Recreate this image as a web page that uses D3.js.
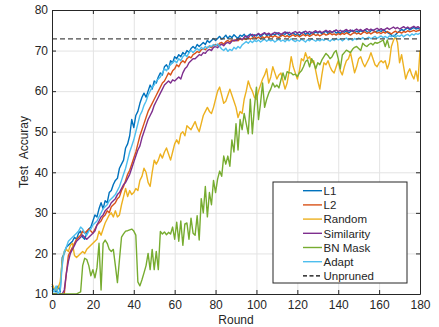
<!DOCTYPE html>
<html>
<head>
<meta charset="utf-8">
<script src="https://cdn.jsdelivr.net/npm/d3@7"></script>
<style>
body { margin: 0; background: #fff; }
text { font-family: "Liberation Sans", Arial, sans-serif; fill: #262626; }
</style>
</head>
<body>
<svg width="439" height="327"></svg>
<script>
// series names + colours (matlab default order)
var names = ["L1", "L2", "Random", "Similarity", "BN Mask", "Adapt"];
var colors = ["#0072BD", "#D95319", "#EDB120", "#7E2F8E", "#77AC30", "#4DBEEE"];

var xTicks = [0, 20, 40, 60, 80, 100, 120, 140, 160, 180];
var yTicks = [10, 20, 30, 40, 50, 60, 70, 80];
var unpruned = 72.9;

// test accuracy per round
var l1 = [
  12, 11, 10.5, 12, 10.5, 19, 20, 21.5, 22, 22.5,
  23, 24, 23.5, 25, 25.5, 24, 23.5, 25, 26, 26.5,
  28, 29.5, 29, 31, 32.5, 31, 33, 32.5, 35, 35.5,
  37, 38, 38.5, 41, 42, 43, 46, 47, 49, 53,
  51, 54, 55, 57, 58.5, 59.5, 58.5, 60, 61.5, 60.5,
  62.5, 62, 63.5, 64.5, 64, 66, 66.5, 65.5, 67.5, 67,
  68.5, 68, 69, 68.5, 69.5, 69, 70, 69.5, 70.5, 71,
  70.5, 71.5, 71, 71.5, 72, 71.5, 72.5, 72, 72.5, 73,
  72.5, 73, 73.5, 72.8, 73.2, 73.8, 73, 73.6, 73.2, 73.9,
  73.4, 73, 73.8, 73.5, 74, 73.3, 73.7, 74.1, 73.5, 73.9,
  73.6, 74.2, 73.4, 73.9, 74.3, 73.7, 74, 73.5, 74.2, 73.8,
  74.4, 73.9, 73.6, 74.2, 74, 74.5, 73.8, 74.1, 74.4, 73.9,
  74.2, 73.7, 74.3, 74.6, 74, 74.4, 73.9, 74.5, 74.2, 74.6,
  74.3, 74.7, 74.1, 74.5, 74.8, 74.2, 74.6, 74.4, 74.9, 74.3,
  74.6, 74.2, 74.8, 74.5, 74.9, 74.3, 74.7, 75, 74.4, 74.8,
  74.5, 74.9, 74.6, 75.1, 74.7, 74.4, 74.9, 75.1, 74.6, 74.8,
  75, 74.7, 75.2, 74.8, 74.5, 74.2, 73.8, 73.5, 73.9, 74.4,
  74.8, 75.2, 74.9, 75.3, 75.6, 75.1, 75.4, 75.7, 75.3, 75.5,
  75.2
];
var l2 = [
  10, 10, 10, 10, 10, 10, 10, 15, 19.5, 20.5,
  21.5, 22.5, 23.5, 24, 24.5, 25.5, 25, 25.5, 26, 25.5,
  25, 26, 27, 27.5, 28, 29, 29.5, 30.5, 30, 31.5,
  32, 32.5, 33.5, 34, 35.5, 36.5, 38, 39.5, 40.5, 42,
  43.5, 45, 47, 49, 50.5, 52, 53.5, 55, 56, 57,
  58, 59, 60, 61, 62, 62.5, 63.5, 64.5, 64, 65,
  65.5, 66.5, 66, 67, 67.5, 67, 68, 68.5, 68.2, 69,
  69.3, 69.8, 69.5, 70.2, 70.5, 70.2, 70.8, 71, 70.7, 71.3,
  71.5, 71.2, 71.8, 72, 71.6, 72.2, 72.5, 72.1, 72.6, 72.3,
  72.7, 72.4, 72.9, 72.6, 73, 72.7, 73.2, 72.8, 73.1, 73.4,
  73, 73.3, 72.9, 73.4, 73.1, 73.5, 73.2, 73.6, 73.3, 73.7,
  73.4, 73.2, 73.6, 73.8, 73.4, 73.7, 73.3, 73.6, 73.9, 73.5,
  73.8, 73.4, 73.7, 74, 73.6, 73.9, 73.5, 73.8, 74.1, 73.7,
  74, 73.6, 73.9, 74.2, 73.8, 74, 74.3, 73.9, 74.1, 73.8,
  74.2, 73.9, 74.3, 74, 74.4, 74.1, 73.8, 74.2, 74.5, 74.1,
  74.3, 74, 74.4, 74.6, 74.2, 74.5, 74.1, 74.4, 74.7, 74.3,
  74.5, 74.2, 74.6, 74.3, 74.7, 74.4, 74.1, 74.5, 74.8, 74.4,
  74.6, 74.3, 74.7, 74.5, 74.9, 74.6, 74.8, 75, 74.7, 74.9,
  75
];
var random = [
  12.5, 11.5, 11, 11.5, 13, 18, 20.5, 21, 20.5, 22,
  22.5, 19.5, 19, 19.5, 20, 20.5, 20, 21, 21.5, 22,
  22.5, 23, 23.5, 25.5, 24.5, 26, 27.5, 28.5, 29.5, 30,
  29, 30.5, 29, 29.5, 32, 34, 36, 34, 35.5, 34.5,
  35, 36, 35.5, 38, 39, 41, 40, 37.5, 36.5, 40,
  43, 42, 43, 44.5, 43.5, 45, 46, 44.5, 43, 45,
  47, 48, 47, 49.5, 50, 49, 51.5, 51, 50.5, 51.5,
  52.5, 51, 50, 52, 54, 55, 56, 55, 54.5, 56,
  58, 60, 61, 59, 57, 57.5, 59, 60.5, 59, 57.5,
  56, 53.5, 55, 54.5, 58, 60, 62.5, 61, 60, 58.5,
  58, 60, 61.5, 63, 64, 65.5, 62, 63.5, 66, 64.5,
  63, 64, 64.5, 62.5, 60.5, 62, 65, 68.5, 66, 64.5,
  63, 65, 68, 67.5, 69.5, 68, 68.5, 67, 67.5, 65,
  62.5, 60.5, 64, 67, 66.5, 67.5, 66, 65, 64.5, 66,
  67.5, 65, 64, 66, 67.5, 68, 69.5, 67, 64.5, 66,
  68, 68.5, 67, 66, 67, 68, 69.5, 68, 66.5, 66,
  67, 67.5, 67, 67.5, 65.5, 67, 71, 72.5, 73.5, 72,
  67, 69, 66, 63, 64.5, 65.5, 64, 63, 65, 62.5,
  70
];
var similarity = [
  10, 10, 10, 10, 10, 10, 11, 15, 18, 20,
  21, 22, 23, 23.5, 24, 24.5, 24, 23.5, 24, 24.5,
  25, 25.5, 27, 28, 29, 29.5, 30.5, 31, 31.5, 32.5,
  33, 33.5, 34.5, 35, 36, 37, 37.5, 38.5, 39.5, 41,
  42.5, 44, 45.5, 46.5, 48.5, 50, 51.5, 53, 54, 55,
  56.5, 57.5, 58.5, 59.5, 60.5, 61.5, 62, 62.5, 62, 62.8,
  62.5, 63, 63.5, 63, 64.5, 65.5, 66, 67, 67.5, 68,
  68, 68.5, 69, 68.8, 69.5, 69.3, 70, 70.3, 70, 70.8,
  71, 70.7, 71.3, 71.6, 71.2, 71.8, 72, 71.7, 72.3, 72.6,
  72.4, 72.8, 73.1, 72.7, 73.3, 73.6, 73.2, 73.8, 74, 73.6,
  73.9, 74.2, 73.8, 74.1, 74.4, 74, 74.3, 73.9, 74.2, 74.5,
  74.1, 74.4, 74, 74.3, 74.6, 74.2, 74.5, 74.1, 74.4, 74.7,
  74.3, 74.6, 74.2, 74.5, 74.8, 74.4, 74.7, 74.3, 74.6, 74.9,
  74.5, 74.8, 74.4, 74.7, 75, 74.6, 74.9, 74.5, 74.8, 75.1,
  74.7, 75, 74.6, 74.9, 75.2, 74.8, 75.1, 74.7, 75, 75.3,
  74.9, 75.2, 74.8, 75.1, 75.4, 75, 75.3, 74.9, 75.2, 75.5,
  75.1, 75.4, 75, 75.3, 75.6, 75.2, 75.5, 75.8, 75.4, 75.7,
  75.3, 75.6, 75.9, 75.5, 75.8, 75.4, 75.7, 76, 75.6, 75.9,
  75.5
];
// BN Mask stops at round 165
var bnMask = [
  10, 10, 10, 10, 10, 10, 10, 10, 10, 10,
  10, 10, 10, 10.3, 10.5, 17, 18.8, 18.5, 17, 14.5,
  16, 14, 16.5, 22.5, 11, 22.5, 23.3, 22.5, 21, 20.5,
  21, 17, 12.8, 18.5, 24, 24.8, 25.5, 25.6, 25.8, 26,
  25.5, 24.5, 13, 12, 13.5, 15.2, 17, 20, 16, 21,
  16, 20.5, 16, 25.4, 24.8, 25.3, 24.6, 25.2, 24.8, 26.5,
  23.5, 27.7, 23, 28, 22, 27.3, 27.5, 23.5, 28.7, 25,
  24.5, 29.3, 23.3, 33.5, 30, 36.5, 29, 35, 32, 38,
  35, 38.3, 40.3, 39, 44, 42, 44, 41.5, 48, 45,
  52, 45.5, 53, 50.5, 54.5, 52, 49.5, 58, 49.5, 56,
  61, 53, 57, 62, 56, 58, 59.5, 60.5, 62, 61,
  61.5, 60.8, 62.8, 64.5, 62.8, 64.8, 64.5, 64.5, 64, 64.2,
  63.6, 64.5, 65, 66, 67.3, 67.7, 66, 68, 67, 65.5,
  67, 66.5, 67.7, 68.5, 69.3, 68.8, 68, 68.5, 69.5, 70,
  68, 65.5, 68.9, 69.5, 70.1, 69.8, 69.5, 70.3, 70.8, 71,
  70.5, 70, 71.8, 71.3, 71, 71.5, 71.8, 71.4, 72, 71.8,
  72, 72.3, 72.6, 71, 72.6, 70.6
];
var adapt = [
  11, 10.5, 12, 10, 11, 17, 20.5, 21.5, 23, 23.5,
  24, 24.5, 25, 25.5, 26.5, 26, 25, 24.5, 25.5, 26,
  27, 27.5, 28, 29, 30, 31, 31.5, 32, 33, 33.5,
  34, 34.5, 35.5, 36.5, 38, 39.5, 41, 43, 45, 46.5,
  48, 50, 52, 54, 55, 56.5, 57.5, 59, 60, 61,
  61.5, 62.5, 63, 63.5, 64.5, 65.5, 65, 66, 66.5, 67,
  67.5, 67, 68, 67.5, 68.5, 69, 68.5, 69.5, 70, 69.5,
  70, 70.5, 70, 70.8, 70.4, 71, 70.6, 71.2, 71, 71.5,
  71.2, 71.6, 71, 70.4, 70, 70.6, 69.8, 70.3, 70, 70.8,
  70.4, 71, 70.6, 71.4, 71.8, 72.2, 71.8, 72.4, 72, 72.5,
  72.2, 72.6, 72.1, 72.5, 72.8, 72.3, 72.7, 72.4, 72.6, 72.1,
  72.5, 72.8, 72.3, 72.6, 72.2, 72.7, 72.4, 72.9, 72.5, 72.2,
  72.6, 72.3, 72.8, 72.5, 72.1, 72.7, 72.4, 72.9, 72.6, 72.3,
  72.7, 72.4, 72.8, 72.5, 72.9, 72.6, 72.3, 72.8, 72.5, 73,
  72.6, 72.9, 72.4, 72.8, 73.1, 72.6, 72.9, 72.5, 73, 72.7,
  73.1, 72.8, 73.2, 72.7, 73, 73.3, 72.9, 73.2, 73.5, 73,
  73.3, 73.6, 73.2, 73.5, 73.1, 73.6, 73.4, 73.8, 73.3, 73.7,
  73.5, 73.9, 73.4, 73.8, 74, 73.6, 74.1, 73.8, 74.2, 74,
  74.3
];

var series = [l1, l2, random, similarity, bnMask, adapt];

var svg = d3.select('svg');
// plot box (don't call it "top", that's window.top)
var mLeft = 52, mRight = 420, mTop = 10, mBottom = 294;

var x = d3.scaleLinear().domain([0, 180]).range([mLeft, mRight]);
var y = d3.scaleLinear().domain([10, 80]).range([mBottom, mTop]);

// grid
svg.append('g')
  .attr('transform', 'translate(0,' + mBottom + ')')
  .call(d3.axisBottom(x).tickValues(xTicks).tickSize(-(mBottom - mTop)).tickFormat(''))
  .call(function(g) { g.select('.domain').remove(); })
  .selectAll('line').attr('stroke', '#e3e3e3');
svg.append('g')
  .attr('transform', 'translate(' + mLeft + ',0)')
  .call(d3.axisLeft(y).tickValues(yTicks).tickSize(-(mRight - mLeft)).tickFormat(''))
  .call(function(g) { g.select('.domain').remove(); })
  .selectAll('line').attr('stroke', '#e3e3e3');

// lines
var line = d3.line()
  .x(function(d, i) { return x(i); })
  .y(function(d) { return y(d); });

series.forEach(function(s, k) {
  svg.append('path')
    .datum(s)
    .attr('fill', 'none')
    .attr('stroke', colors[k])
    .attr('stroke-width', 1.4)
    .attr('stroke-linejoin', 'round')
    .attr('d', line);
});

svg.append('line')
  .attr('x1', x(0)).attr('x2', x(180))
  .attr('y1', y(unpruned)).attr('y2', y(unpruned))
  .attr('stroke', '#4a4a4a')
  .attr('stroke-width', 1.3)
  .attr('stroke-dasharray', '5,3');

// axes, ticks pointing inward on all four sides
function styleAxis(g) {
  g.select('.domain').attr('stroke', '#262626');
  g.selectAll('.tick line').attr('stroke', '#262626');
  g.selectAll('text').style('font-size', '12px').attr('fill', '#262626');
}
svg.append('g')
  .attr('transform', 'translate(0,' + mBottom + ')')
  .call(d3.axisBottom(x).tickValues(xTicks).tickSize(-4).tickSizeOuter(0).tickPadding(6))
  .call(styleAxis);
svg.append('g')
  .attr('transform', 'translate(' + mLeft + ',0)')
  .call(d3.axisLeft(y).tickValues(yTicks).tickSize(-4).tickSizeOuter(0).tickPadding(4))
  .call(styleAxis);
svg.append('g')
  .attr('transform', 'translate(0,' + mTop + ')')
  .call(d3.axisTop(x).tickValues(xTicks).tickSize(-4).tickSizeOuter(0).tickFormat(''))
  .call(styleAxis);
svg.append('g')
  .attr('transform', 'translate(' + mRight + ',0)')
  .call(d3.axisRight(y).tickValues(yTicks).tickSize(-4).tickSizeOuter(0).tickFormat(''))
  .call(styleAxis);

svg.append('text')
  .text('Round')
  .attr('x', (mLeft + mRight) / 2)
  .attr('y', 324)
  .attr('text-anchor', 'middle')
  .style('font-size', '12px');

svg.append('text')
  .text('Test Accuray')
  .attr('transform', 'translate(28,' + ((mTop + mBottom) / 2) + ')rotate(-90)')
  .attr('text-anchor', 'middle')
  .style('font-size', '12px')
  .style('word-spacing', '4px');

// legend
var legend = svg.append('g').attr('transform', 'translate(273,182)');
legend.append('rect')
  .attr('width', 134).attr('height', 101)
  .attr('fill', '#fff').attr('stroke', '#262626').attr('stroke-width', 1);

var legendNames = names.concat(['Unpruned']);
var legendColors = colors.concat(['#000']);
legendNames.forEach(function(n, i) {
  var ly = 8.7 + i * 14.2;
  legend.append('line')
    .attr('x1', 30).attr('x2', 49)
    .attr('y1', ly).attr('y2', ly)
    .attr('stroke', legendColors[i])
    .attr('stroke-width', 1.4)
    .attr('stroke-dasharray', n == 'Unpruned' ? '4,2.5' : null);
  legend.append('text')
    .text(n)
    .attr('x', 50.5)
    .attr('y', ly + 4.3)
    .style('font-size', '11.5px');
});
</script>
</body>
</html>
